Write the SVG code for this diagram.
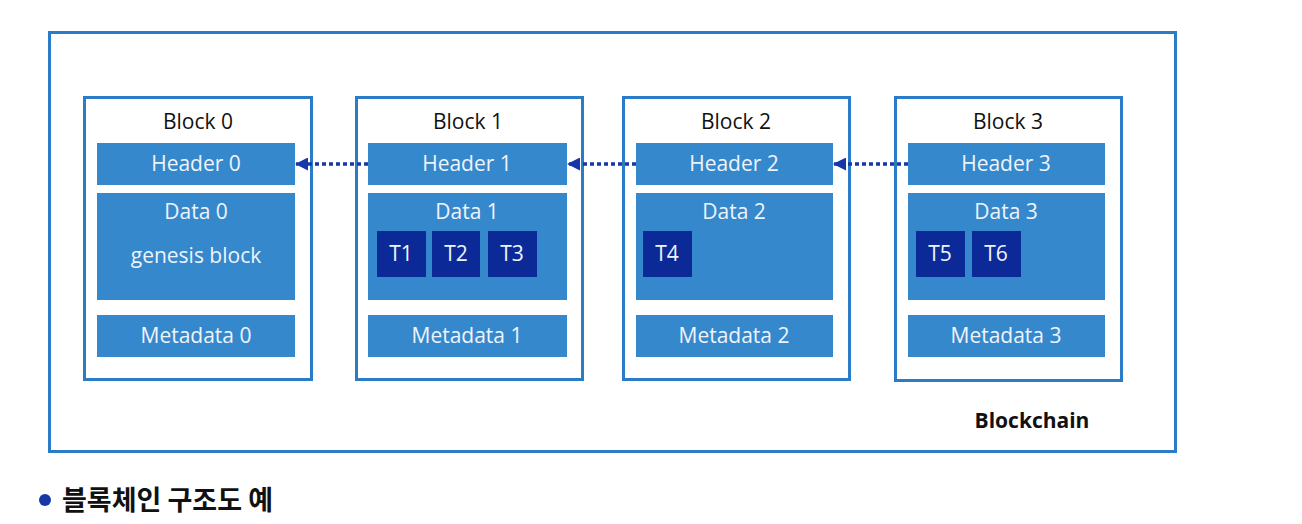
<svg xmlns="http://www.w3.org/2000/svg" width="1302" height="524" viewBox="0 0 1302 524">
<defs>
<style>
.outer{fill:#ffffff;stroke:#2a7cc7;stroke-width:3}
.block{fill:#ffffff;stroke:#2a7cc7;stroke-width:3}
.seg{fill:#3688cc}
.tx{fill:#0b2a98}
.title{font-family:"Open Sans","Liberation Sans",sans-serif;font-size:21px;fill:#111;text-anchor:middle}
.lbl{font-family:"Open Sans","Liberation Sans",sans-serif;font-size:21px;fill:#eef4fb;text-anchor:middle}
.conn{stroke:#1537a8;stroke-width:3.5;stroke-dasharray:4 3;fill:none}
</style>
<marker id="ah" markerWidth="13" markerHeight="13" refX="12" refY="6.5" orient="auto" markerUnits="userSpaceOnUse">
<path d="M0,0 L13,6.5 L0,13 Z" fill="#1537a8"/>
</marker>
</defs>
<rect width="1302" height="524" fill="#ffffff"/>
<g id="blockchain">
<rect class="outer" x="49.5" y="32.5" width="1126" height="419"/>
<text x="1032" y="428" font-family="'Open Sans','Liberation Sans',sans-serif" font-size="21" font-weight="bold" fill="#111" text-anchor="middle">Blockchain</text>
</g>
<g id="block0">
<rect class="block" x="84.5" y="97.5" width="227" height="282"/>
<text class="title" x="198" y="129">Block 0</text>
<rect class="seg" x="97" y="143" width="198" height="42"/>
<text class="lbl" x="196" y="171">Header 0</text>
<rect class="seg" x="97" y="193" width="198" height="107"/>
<text class="lbl" x="196" y="219">Data 0</text>
<text class="lbl" x="196" y="263">genesis block</text>
<rect class="seg" x="97" y="315" width="198" height="42"/>
<text class="lbl" x="196" y="343">Metadata 0</text>
</g>
<g id="block1">
<rect class="block" x="356.5" y="97.5" width="226" height="282"/>
<text class="title" x="468" y="129">Block 1</text>
<rect class="seg" x="368" y="143" width="199" height="42"/>
<text class="lbl" x="467" y="171">Header 1</text>
<rect class="seg" x="368" y="193" width="199" height="107"/>
<text class="lbl" x="467" y="219">Data 1</text>
<rect class="tx" x="377" y="231" width="49" height="46"/>
<text class="lbl" x="401" y="261">T1</text>
<rect class="tx" x="432" y="231" width="48" height="46"/>
<text class="lbl" x="456" y="261">T2</text>
<rect class="tx" x="488" y="231" width="49" height="46"/>
<text class="lbl" x="512" y="261">T3</text>
<rect class="seg" x="368" y="315" width="199" height="42"/>
<text class="lbl" x="467" y="343">Metadata 1</text>
</g>
<g id="block2">
<rect class="block" x="623.5" y="97.5" width="226" height="282"/>
<text class="title" x="736" y="129">Block 2</text>
<rect class="seg" x="636" y="143" width="197" height="42"/>
<text class="lbl" x="734" y="171">Header 2</text>
<rect class="seg" x="636" y="193" width="197" height="107"/>
<text class="lbl" x="734" y="219">Data 2</text>
<rect class="tx" x="643" y="231" width="49" height="46"/>
<text class="lbl" x="667" y="261">T4</text>
<rect class="seg" x="636" y="315" width="197" height="42"/>
<text class="lbl" x="734" y="343">Metadata 2</text>
</g>
<g id="block3">
<rect class="block" x="895.5" y="97.5" width="226" height="283"/>
<text class="title" x="1008" y="129">Block 3</text>
<rect class="seg" x="908" y="143" width="197" height="42"/>
<text class="lbl" x="1006" y="171">Header 3</text>
<rect class="seg" x="908" y="193" width="197" height="107"/>
<text class="lbl" x="1006" y="219">Data 3</text>
<rect class="tx" x="916" y="231" width="49" height="46"/>
<text class="lbl" x="940" y="261">T5</text>
<rect class="tx" x="972" y="231" width="49" height="46"/>
<text class="lbl" x="996" y="261">T6</text>
<rect class="seg" x="908" y="315" width="197" height="42"/>
<text class="lbl" x="1006" y="343">Metadata 3</text>
</g>
<g id="connectors">
<line class="conn" x1="368" y1="164" x2="296" y2="164" marker-end="url(#ah)"/>
<line class="conn" x1="636" y1="164" x2="568" y2="164" marker-end="url(#ah)"/>
<line class="conn" x1="908" y1="164" x2="834" y2="164" marker-end="url(#ah)"/>
</g>
<g id="caption">
<circle cx="45" cy="500" r="6" fill="#1537a8"/>
<text x="62" y="510" font-family="'Noto Sans CJK KR',sans-serif" font-size="27" font-weight="bold" fill="#111">블록체인 구조도 예</text>
</g>
</svg>
